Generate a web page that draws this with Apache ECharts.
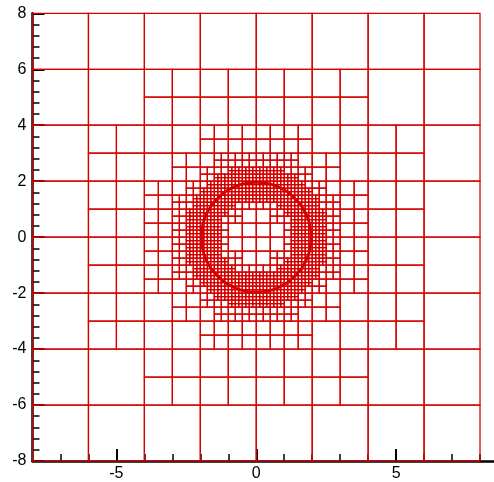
<!DOCTYPE html>
<html>
<head>
<meta charset="utf-8">
<script src="https://cdn.jsdelivr.net/npm/echarts@6/dist/echarts.min.js"></script>
<style>
  html, body { margin: 0; padding: 0; background: #ffffff; }
  #chart { width: 494px; height: 482px; }
</style>
</head>
<body>
<div id="chart"></div>
<script>
// Axis ranges
const xRange = [-8, 8.5];
const yRange = [-8, 8];
// Square domain covered by the adaptive mesh
const meshDomain = [-8, 8];
// Cell edge length at each refinement level, coarsest first
const levelSizes = [2, 1, 0.5, 0.25, 0.125];
// A cell of a level is split when it lies closer than this to the interface
const refineDistance = [3.0, 1.4, 0.75, 0.5];
// Interface circle: centre x, centre y, radius
const interfaceCircle = [[0, 0, 1.96]];
// Tick positions
const xMajorTicks = [-5, 0, 5];
const xMinorTicks = [-7, -6, -4, -3, -2, -1, 1, 2, 3, 4, 6, 7, 8];
const yMajorInterval = 2;
const yMinorSplit = 5;

const RED = '#d40000';

// Distance from a square cell to the interface circle
function cellDistance(x0, y0, s) {
  const [cx, cy, r] = interfaceCircle[0];
  const nx = Math.max(x0, Math.min(cx, x0 + s));
  const ny = Math.max(y0, Math.min(cy, y0 + s));
  const rmin = Math.hypot(nx - cx, ny - cy);
  const fx = Math.max(Math.abs(x0 - cx), Math.abs(x0 + s - cx));
  const fy = Math.max(Math.abs(y0 - cy), Math.abs(y0 + s - cy));
  const rmax = Math.hypot(fx, fy);
  if (r < rmin) return rmin - r;
  if (r > rmax) return r - rmax;
  return 0;
}

// Leaves stored by level and integer index
const leaves = new Map();
const key = (l, i, j) => l + ':' + i + ':' + j;

function build(level, i, j) {
  const s = levelSizes[level];
  const x0 = meshDomain[0] + i * s, y0 = meshDomain[0] + j * s;
  if (level < refineDistance.length && cellDistance(x0, y0, s) < refineDistance[level]) {
    for (let a = 0; a < 2; a++) for (let b = 0; b < 2; b++) build(level + 1, 2 * i + a, 2 * j + b);
  } else {
    leaves.set(key(level, i, j), [level, i, j]);
  }
}

const nBase = Math.round((meshDomain[1] - meshDomain[0]) / levelSizes[0]);
for (let i = 0; i < nBase; i++) for (let j = 0; j < nBase; j++) build(0, i, j);

function leafLevelAt(px, py) {
  if (px <= meshDomain[0] || px >= meshDomain[1] || py <= meshDomain[0] || py >= meshDomain[1]) return -1;
  for (let l = 0; l < levelSizes.length; l++) {
    const s = levelSizes[l];
    const i = Math.floor((px - meshDomain[0]) / s), j = Math.floor((py - meshDomain[0]) / s);
    if (leaves.has(key(l, i, j))) return l;
  }
  return -1;
}

// 2:1 balance between neighbouring leaves
(function balance() {
  const fine = levelSizes[levelSizes.length - 1];
  const eps = 1e-6;
  let changed = true;
  while (changed) {
    changed = false;
    for (const [k, leaf] of Array.from(leaves.entries())) {
      const [l, i, j] = leaf;
      if (l >= levelSizes.length - 2) continue;
      const s = levelSizes[l];
      const x0 = meshDomain[0] + i * s, y0 = meshDomain[0] + j * s;
      let split = false;
      for (let t = fine / 2; t < s && !split; t += fine) {
        const pts = [[x0 + t, y0 - eps], [x0 + t, y0 + s + eps], [x0 - eps, y0 + t], [x0 + s + eps, y0 + t]];
        for (const p of pts) {
          if (leafLevelAt(p[0], p[1]) > l + 1) { split = true; break; }
        }
      }
      if (split) {
        leaves.delete(k);
        for (let a = 0; a < 2; a++) for (let b = 0; b < 2; b++)
          leaves.set(key(l + 1, 2 * i + a, 2 * j + b), [l + 1, 2 * i + a, 2 * j + b]);
        changed = true;
      }
    }
  }
})();

const cells = [];
leaves.forEach(([l, i, j]) => {
  const s = levelSizes[l];
  cells.push([meshDomain[0] + i * s, meshDomain[0] + j * s, s]);
});

const chart = echarts.init(document.getElementById('chart'), null, { renderer: 'canvas' });
const fontFamily = '"Liberation Sans", Arial, Helvetica, sans-serif';

chart.setOption({
  animation: false,
  backgroundColor: '#ffffff',
  grid: { left: 32.5, top: 13.3, width: 463.5, height: 448, containLabel: false },
  xAxis: [
    {
      type: 'value', min: xRange[0], max: xRange[1], position: 'bottom',
      axisLine: { show: true, onZero: false, lineStyle: { color: '#000', width: 2.5 } },
      axisTick: { show: true, inside: true, length: 12, customValues: xMajorTicks, lineStyle: { color: '#000', width: 2 } },
      axisLabel: { show: true, customValues: xMajorTicks, margin: 5, color: '#000', fontSize: 16, fontFamily: fontFamily },
      splitLine: { show: false }
    },
    {
      type: 'value', min: xRange[0], max: xRange[1], position: 'bottom',
      axisLine: { show: false, onZero: false },
      axisTick: { show: true, inside: true, length: 7, customValues: xMinorTicks, lineStyle: { color: '#000', width: 1.5 } },
      axisLabel: { show: false },
      splitLine: { show: false }
    }
  ],
  yAxis: {
    type: 'value', min: yRange[0], max: yRange[1], interval: yMajorInterval, position: 'left',
    axisLine: { show: true, onZero: false, lineStyle: { color: '#000', width: 2.5 } },
    axisTick: { show: true, inside: true, length: 12, lineStyle: { color: '#000', width: 2 } },
    minorTick: { show: true, splitNumber: yMinorSplit, length: 7, lineStyle: { color: '#000', width: 1.5 } },
    axisLabel: { show: true, margin: 6, color: '#000', fontSize: 16, fontFamily: fontFamily },
    splitLine: { show: false }
  },
  series: [
    {
      name: 'mesh', type: 'custom', xAxisIndex: 0, yAxisIndex: 0, silent: true, z: 1,
      data: cells,
      encode: { x: [0], y: [1] },
      renderItem: function (params, api) {
        const x0 = api.value(0), y0 = api.value(1), s = api.value(2);
        const p0 = api.coord([x0, y0 + s]);
        const p1 = api.coord([x0 + s, y0]);
        return {
          type: 'rect',
          shape: { x: p0[0], y: p0[1], width: p1[0] - p0[0], height: p1[1] - p0[1] },
          style: { fill: null, stroke: RED, lineWidth: 1.25 }
        };
      }
    },
    {
      name: 'interface', type: 'custom', xAxisIndex: 0, yAxisIndex: 0, silent: true, z: 2,
      data: interfaceCircle,
      encode: { x: [0], y: [1] },
      renderItem: function (params, api) {
        const c = api.coord([api.value(0), api.value(1)]);
        const r = api.size([api.value(2), 0])[0];
        return {
          type: 'circle',
          shape: { cx: c[0], cy: c[1], r: r },
          style: { fill: null, stroke: RED, lineWidth: 2.8 }
        };
      }
    }
  ]
});
</script>
</body>
</html>
